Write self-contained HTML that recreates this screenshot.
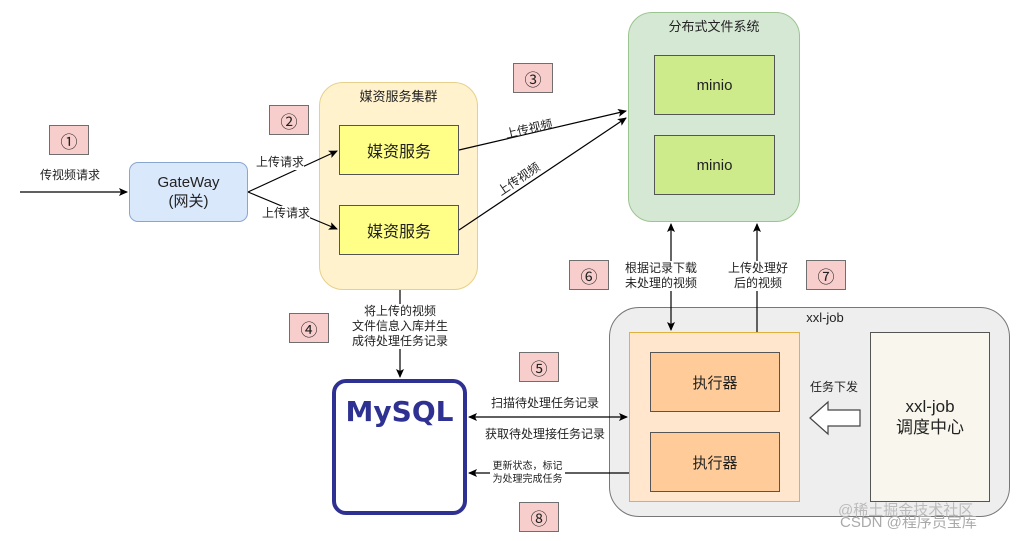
<!DOCTYPE html><html><head><meta charset="utf-8"><style>
body{margin:0;width:1018px;height:541px;background:#fff;position:relative;overflow:hidden;font-family:"Liberation Sans","Noto Sans CJK SC",sans-serif;color:#222}
.a{position:absolute;box-sizing:border-box}
.n{background:#f8cecc;border:1px solid #6f6f6f;font-size:17px;display:flex;align-items:center;justify-content:center}
.c{display:flex;align-items:center;justify-content:center;text-align:center}
.t{position:absolute;font-size:12px;text-align:center;line-height:15px;white-space:nowrap}
</style></head><body>
<div class="a" style="left:319px;top:82px;width:159px;height:208px;background:#fff2cc;border:1px solid #e6d08c;border-radius:24px"></div>
<div class="t" style="left:319px;top:89px;width:159px;font-size:13px">媒资服务集群</div>
<div class="a c" style="left:339px;top:125px;width:120px;height:50px;background:#ffff88;border:1px solid #555;font-size:16px">媒资服务</div>
<div class="a c" style="left:339px;top:205px;width:120px;height:50px;background:#ffff88;border:1px solid #555;font-size:16px">媒资服务</div>
<div class="a" style="left:628px;top:12px;width:172px;height:210px;background:#d5e8d4;border:1px solid #9cc490;border-radius:24px"></div>
<div class="t" style="left:628px;top:19px;width:172px;font-size:13px">分布式文件系统</div>
<div class="a c" style="left:654px;top:55px;width:121px;height:60px;background:#cdeb8b;border:1px solid #555;font-size:15px">minio</div>
<div class="a c" style="left:654px;top:135px;width:121px;height:60px;background:#cdeb8b;border:1px solid #555;font-size:15px">minio</div>
<div class="a c" style="left:129px;top:162px;width:119px;height:60px;background:#dae8fc;border:1px solid #8aa6cf;border-radius:9px;font-size:15px;line-height:19px">GateWay<br>(网关)</div>
<div class="a" style="left:609px;top:307px;width:401px;height:210px;background:#eeeeee;border:1px solid #777;border-radius:30px"></div>
<div class="t" style="left:800px;top:310px;width:50px;font-size:13px">xxl-job</div>
<div class="a" style="left:629px;top:332px;width:171px;height:170px;background:#ffe6cc;border:1px solid #e0b040"></div>
<div class="a c" style="left:650px;top:352px;width:130px;height:60px;background:#ffcc99;border:1px solid #555;font-size:15px">执行器</div>
<div class="a c" style="left:650px;top:432px;width:130px;height:60px;background:#ffcc99;border:1px solid #555;font-size:15px">执行器</div>
<div class="a c" style="left:870px;top:332px;width:120px;height:170px;background:#f9f7ed;border:1px solid #555;font-size:17px;line-height:21px">xxl-job<br>调度中心</div>
<div class="a" style="left:332px;top:379px;width:135px;height:136px;border:4px solid #2e3192;border-radius:14px"></div>
<div class="t" style="left:332px;top:396px;width:135px;font-size:28px;line-height:32px;font-weight:bold;color:#2e3192;font-family:'DejaVu Sans',sans-serif">MySQL</div>
<div class="a n" style="left:49px;top:125px;width:40px;height:30px">①</div>
<div class="a n" style="left:269px;top:105px;width:40px;height:30px">②</div>
<div class="a n" style="left:513px;top:63px;width:40px;height:30px">③</div>
<div class="a n" style="left:289px;top:313px;width:40px;height:30px">④</div>
<div class="a n" style="left:519px;top:352px;width:40px;height:30px">⑤</div>
<div class="a n" style="left:569px;top:260px;width:40px;height:30px">⑥</div>
<div class="a n" style="left:806px;top:260px;width:40px;height:30px">⑦</div>
<div class="a n" style="left:519px;top:502px;width:40px;height:30px">⑧</div>
<svg class="a" style="left:0;top:0" width="1018" height="541">
<defs><marker id="m" markerWidth="10" markerHeight="10" refX="8" refY="4" orient="auto-start-reverse" markerUnits="userSpaceOnUse"><path d="M0,0 L9,4 L0,8 L2,4z" fill="#000"/></marker></defs>
<g stroke="#000" stroke-width="1.2" fill="none">
<line x1="20" y1="192" x2="127" y2="192" marker-end="url(#m)"/>
<line x1="248" y1="192" x2="337" y2="151" marker-end="url(#m)"/>
<line x1="248" y1="192" x2="337" y2="229" marker-end="url(#m)"/>
<line x1="459" y1="150" x2="626" y2="111" marker-end="url(#m)"/>
<line x1="459" y1="230" x2="626" y2="118" marker-end="url(#m)"/>
<line x1="400" y1="290" x2="400" y2="377" marker-end="url(#m)"/>
<line x1="671" y1="224" x2="671" y2="330" marker-start="url(#m)" marker-end="url(#m)"/>
<line x1="757" y1="332" x2="757" y2="224" marker-end="url(#m)"/>
<line x1="469" y1="417" x2="627" y2="417" marker-start="url(#m)" marker-end="url(#m)"/>
<line x1="629" y1="473" x2="469" y2="473" marker-end="url(#m)"/>
</g>
<path d="M810,418 L828,402 L828,410 L860,410 L860,426 L828,426 L828,434 Z" fill="#fff" stroke="#444" stroke-width="1.2"/>
</svg>
<div class="t" style="left:30px;top:168px;width:80px;background:#fff">传视频请求</div>
<div class="t" style="left:256px;top:155px;background:#fff">上传请求</div>
<div class="t" style="left:262px;top:206px;background:#fff">上传请求</div>
<div class="t" style="left:505px;top:122px;transform:rotate(-13deg)">上传视频</div>
<div class="t" style="left:495px;top:172px;transform:rotate(-34deg)">上传视频</div>
<div class="t" style="left:340px;top:304px;width:120px;background:#fff">将上传的视频<br>文件信息入库并生<br>成待处理任务记录</div>
<div class="t" style="left:615px;top:261px;width:92px;background:#fff">根据记录下载<br>未处理的视频</div>
<div class="t" style="left:722px;top:261px;width:72px;background:#fff">上传处理好<br>后的视频</div>
<div class="t" style="left:480px;top:396px;width:130px">扫描待处理任务记录</div>
<div class="t" style="left:475px;top:427px;width:140px">获取待处理接任务记录</div>
<div class="t" style="left:490px;top:460px;width:75px;font-size:10px;line-height:13px;background:#fff">更新状态，标记<br>为处理完成任务</div>
<div class="t" style="left:805px;top:380px;width:58px">任务下发</div>
<div class="t" style="left:838px;top:503px;font-size:15px;color:#bbb">@稀土掘金技术社区</div>
<div class="t" style="left:840px;top:515px;font-size:15px;color:#aaa">CSDN @程序员宝库</div>
</body></html>
